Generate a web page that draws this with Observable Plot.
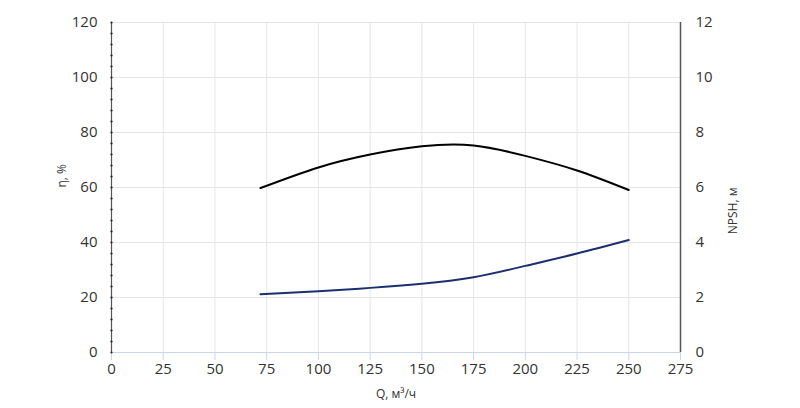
<!DOCTYPE html>
<html>
<head>
<meta charset="utf-8">
<script src="https://cdn.jsdelivr.net/npm/d3@7"></script>
<script src="https://cdn.jsdelivr.net/npm/@observablehq/plot@0.6"></script>
<style>
  html, body { margin: 0; padding: 0; background: #fff; }
  #chart { width: 800px; height: 408px; }
</style>
</head>
<body>
<div id="chart"></div>
<script>
// Data
const effQ = [72, 100, 125, 150, 175, 200, 225, 250];
const effEta = [59.8, 67.3, 72.0, 75.0, 75.3, 71.5, 66.2, 59.1];

const npshQ = [72, 100, 125, 150, 175, 200, 225, 250];
const npshM = [2.12, 2.23, 2.35, 2.5, 2.74, 3.15, 3.6, 4.09];

const xTicks = [0, 25, 50, 75, 100, 125, 150, 175, 200, 225, 250, 275];
const yTicks = [0, 20, 40, 60, 80, 100, 120];          // η, %
const npshTicks = [0, 2, 4, 6, 8, 10, 12];             // NPSH, м
const minorY = d3.range(0, 121, 4);

const xLabel = "Q, м³/ч";
const yLabel = "η, %";
const y2Label = "NPSH, м";

const effData = effQ.map((q, i) => ({q, v: effEta[i]}));
const npshData = npshQ.map((q, i) => ({q, v: npshM[i]}));
// right axis maps 0..12 m onto the same vertical range as 0..120 %
const ratio = yTicks[yTicks.length - 1] / npshTicks[npshTicks.length - 1];

const font = "'Open Sans', 'DejaVu Sans', sans-serif";

const chart = Plot.plot({
  width: 800,
  height: 408,
  marginLeft: 111,
  marginRight: 120,
  marginTop: 22,
  marginBottom: 56,
  style: {fontFamily: font, color: "#333", background: "#fff"},
  x: {domain: [0, 275]},
  y: {domain: [0, 120]},
  marks: [
    Plot.gridX(xTicks, {stroke: "#e6e6e6", strokeOpacity: 1}),
    Plot.gridY(yTicks, {stroke: "#e6e6e6", strokeOpacity: 1}),
    Plot.ruleY([0], {stroke: "#ccd6eb"}),
    Plot.axisX(xTicks, {anchor: "bottom", tickSize: 8, tickPadding: 3, stroke: "#ccd6eb", fill: "#333", fontSize: 15, label: null, tickFormat: d => String(d)}),
    Plot.axisY(yTicks, {anchor: "left", tickSize: 0, tickPadding: 14, fill: "#333", fontSize: 15, label: null}),
    Plot.axisY(yTicks, {anchor: "right", tickSize: 0, tickPadding: 15, fill: "#333", fontSize: 15, label: null, tickFormat: d => String(d / ratio)}),
    Plot.ruleX([0], {stroke: "#555", strokeWidth: 1.2}),
    Plot.dot(minorY, {x: () => 0, y: d => d, r: 1.1, fill: "#222", stroke: null}),
    Plot.ruleX([275], {stroke: "#555", strokeWidth: 1.5}),
    Plot.line(effData, {x: "q", y: "v", curve: "natural", stroke: "#000", strokeWidth: 2}),
    Plot.line(npshData, {x: "q", y: d => d.v * ratio, curve: "natural", stroke: "#1c2f6e", strokeWidth: 2}),
    Plot.text([xLabel], {frameAnchor: "bottom", dy: 45, fontSize: 12, fill: "#333"}),
    Plot.text([yLabel], {frameAnchor: "left", dx: -49, rotate: -90, fontSize: 12, fill: "#333"}),
    Plot.text([y2Label], {frameAnchor: "right", dx: 53, rotate: -90, fontSize: 12, fill: "#333"})
  ]
});
document.getElementById("chart").appendChild(chart);
</script>
</body>
</html>
